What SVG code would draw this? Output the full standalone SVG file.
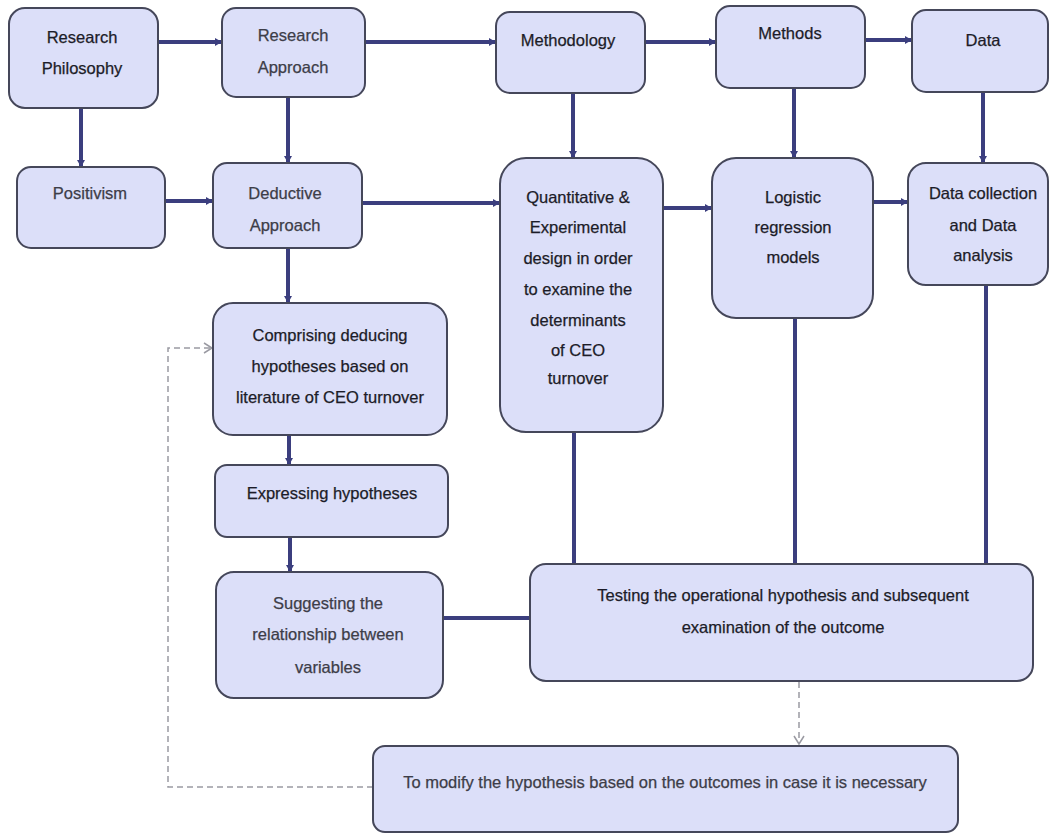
<svg xmlns="http://www.w3.org/2000/svg" width="1052" height="833" viewBox="0 0 1052 833">
  <style>
    .box { fill: #dcdff9; stroke: #45475a; stroke-width: 2; }
    .lbl { font-family: "Liberation Sans", Arial, sans-serif; font-size: 16.5px; fill: #1c1c28; stroke: #1c1c28; stroke-width: 0.25; text-anchor: middle; }
    .dim { fill: #3d3d48; stroke: #3d3d48; }
    .link { stroke: #3b3e7e; stroke-width: 4; fill: none; }
    .dash { stroke: #9a9aa2; stroke-width: 1.5; stroke-dasharray: 6 4; fill: none; }
  </style>
  <defs>
    <marker id="head" markerWidth="7" markerHeight="8" refX="6" refY="4" orient="auto" markerUnits="userSpaceOnUse">
      <path d="M0,0 L7,4 L0,8 z" fill="#3b3e7e"/>
    </marker>
    <marker id="open" markerWidth="12" markerHeight="12" refX="10" refY="6" orient="auto" markerUnits="userSpaceOnUse">
      <path d="M2,1 L10,6 L2,11" fill="none" stroke="#9a9aa2" stroke-width="1.5"/>
    </marker>
  </defs>

  <rect width="1052" height="833" fill="#ffffff"/>

  <!-- connectors -->
  <g id="connectors">
    <line class="link" x1="158" y1="42" x2="221" y2="42" marker-end="url(#head)"/>
    <line class="link" x1="365" y1="42" x2="495" y2="42" marker-end="url(#head)"/>
    <line class="link" x1="645" y1="42" x2="715" y2="42" marker-end="url(#head)"/>
    <line class="link" x1="865" y1="40" x2="911" y2="40" marker-end="url(#head)"/>
    <line class="link" x1="81" y1="108" x2="81" y2="166" marker-end="url(#head)"/>
    <line class="link" x1="288" y1="97" x2="288" y2="162" marker-end="url(#head)"/>
    <line class="link" x1="573" y1="93" x2="573" y2="157" marker-end="url(#head)"/>
    <line class="link" x1="794" y1="88" x2="794" y2="157" marker-end="url(#head)"/>
    <line class="link" x1="983" y1="92" x2="983" y2="162" marker-end="url(#head)"/>
    <line class="link" x1="165" y1="201" x2="212" y2="201" marker-end="url(#head)"/>
    <line class="link" x1="362" y1="203" x2="499" y2="203" marker-end="url(#head)"/>
    <line class="link" x1="663" y1="208" x2="711" y2="208" marker-end="url(#head)"/>
    <line class="link" x1="873" y1="202" x2="907" y2="202" marker-end="url(#head)"/>
    <line class="link" x1="288" y1="248" x2="288" y2="302" marker-end="url(#head)"/>
    <line class="link" x1="289" y1="435" x2="289" y2="464" marker-end="url(#head)"/>
    <line class="link" x1="290" y1="537" x2="290" y2="571" marker-end="url(#head)"/>
    <line class="link" x1="443" y1="618" x2="531" y2="618"/>
    <line class="link" x1="574" y1="432" x2="574" y2="563"/>
    <line class="link" x1="795" y1="318" x2="795" y2="563"/>
    <line class="link" x1="986" y1="285" x2="986" y2="563"/>
    <line class="dash" x1="799" y1="682" x2="799" y2="744" marker-end="url(#open)"/>
    <polyline class="dash" points="373,787 168,787 168,348 212,348" marker-end="url(#open)"/>
  </g>

  <!-- top row -->
  <g id="research-philosophy">
    <rect class="box" x="9" y="8" width="149" height="100" rx="16"/>
    <text class="lbl" x="82" y="43">Research</text>
    <text class="lbl" x="82" y="74">Philosophy</text>
  </g>
  <g id="research-approach">
    <rect class="box" x="222" y="8" width="143" height="89" rx="14"/>
    <text class="lbl dim" x="293" y="41">Research</text>
    <text class="lbl dim" x="293" y="73">Approach</text>
  </g>
  <g id="methodology">
    <rect class="box" x="496" y="12" width="149" height="81" rx="14"/>
    <text class="lbl" x="568" y="46">Methodology</text>
  </g>
  <g id="methods">
    <rect class="box" x="716" y="6" width="149" height="82" rx="14"/>
    <text class="lbl" x="790" y="39">Methods</text>
  </g>
  <g id="data">
    <rect class="box" x="912" y="10" width="136" height="82" rx="14"/>
    <text class="lbl" x="983" y="46">Data</text>
  </g>

  <!-- second row -->
  <g id="positivism">
    <rect class="box" x="17" y="167" width="148" height="81" rx="14"/>
    <text class="lbl dim" x="90" y="199">Positivism</text>
  </g>
  <g id="deductive-approach">
    <rect class="box" x="213" y="163" width="149" height="85" rx="14"/>
    <text class="lbl dim" x="285" y="199">Deductive</text>
    <text class="lbl dim" x="285" y="231">Approach</text>
  </g>
  <g id="quantitative">
    <rect class="box" x="500" y="158" width="163" height="274" rx="26"/>
    <text class="lbl" x="578" y="203">Quantitative &amp;</text>
    <text class="lbl" x="578" y="233">Experimental</text>
    <text class="lbl" x="578" y="264">design in order</text>
    <text class="lbl" x="578" y="295">to examine the</text>
    <text class="lbl" x="578" y="326">determinants</text>
    <text class="lbl" x="578" y="356">of CEO</text>
    <text class="lbl" x="578" y="384">turnover</text>
  </g>
  <g id="logistic">
    <rect class="box" x="712" y="158" width="161" height="160" rx="24"/>
    <text class="lbl" x="793" y="203">Logistic</text>
    <text class="lbl" x="793" y="233">regression</text>
    <text class="lbl" x="793" y="263">models</text>
  </g>
  <g id="data-collection">
    <rect class="box" x="908" y="163" width="140" height="122" rx="18"/>
    <text class="lbl" x="983" y="199">Data collection</text>
    <text class="lbl" x="983" y="231">and Data</text>
    <text class="lbl" x="983" y="261">analysis</text>
  </g>

  <!-- hypothesis chain -->
  <g id="comprising">
    <rect class="box" x="213" y="303" width="234" height="132" rx="20"/>
    <text class="lbl" x="330" y="341">Comprising deducing</text>
    <text class="lbl" x="330" y="372">hypotheses based on</text>
    <text class="lbl" x="330" y="403">literature of CEO turnover</text>
  </g>
  <g id="expressing">
    <rect class="box" x="215" y="465" width="233" height="72" rx="12"/>
    <text class="lbl" x="332" y="499">Expressing hypotheses</text>
  </g>
  <g id="suggesting">
    <rect class="box" x="216" y="572" width="227" height="126" rx="18"/>
    <text class="lbl dim" x="328" y="609">Suggesting the</text>
    <text class="lbl dim" x="328" y="640">relationship  between</text>
    <text class="lbl dim" x="328" y="673">variables</text>
  </g>

  <!-- testing and feedback -->
  <g id="testing">
    <rect class="box" x="530" y="564" width="503" height="117" rx="16"/>
    <text class="lbl" x="783" y="601">Testing the operational hypothesis and subsequent</text>
    <text class="lbl" x="783" y="633">examination  of the outcome</text>
  </g>
  <g id="modify">
    <rect class="box" x="373" y="746" width="585" height="86" rx="12"/>
    <text class="lbl dim" x="665" y="788">To modify the hypothesis based on the outcomes in case it is necessary</text>
  </g>
</svg>
